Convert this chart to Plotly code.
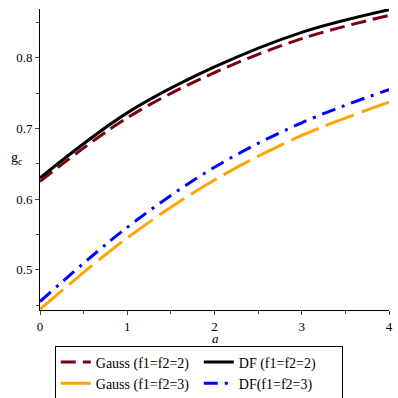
import plotly.graph_objects as go

# valores
a = [0, 1, 2, 3, 4]
gauss_2 = [0.625, 0.715, 0.779, 0.827, 0.860]
df_2 = [0.630, 0.722, 0.787, 0.836, 0.868]
gauss_3 = [0.444, 0.545, 0.627, 0.690, 0.737]
df_3 = [0.455, 0.560, 0.645, 0.708, 0.755]

fig = go.Figure()
fig.add_trace(go.Scatter(x=a, y=gauss_2, mode='lines', name='Gauss (f1=f2=2)',
                         line=dict(color='#7a0010', width=3, dash='15px,7px', shape='spline')))
fig.add_trace(go.Scatter(x=a, y=df_2, mode='lines', name='DF (f1=f2=2)',
                         line=dict(color='black', width=3, shape='spline')))
fig.add_trace(go.Scatter(x=a, y=gauss_3, mode='lines', name='Gauss (f1=f2=3)',
                         line=dict(color='#ffa500', width=3, dash='30px,8px', shape='spline')))
fig.add_trace(go.Scatter(x=a, y=df_3, mode='lines', name='DF(f1=f2=3)',
                         line=dict(color='#0000ff', width=3, dash='14px,7px,3px,7px', shape='spline')))

serif = 'Liberation Serif, Times New Roman, serif'
fuente = dict(family=serif, size=13, color='black')

fig.update_layout(
    width=398, height=398,
    margin=dict(l=40, r=9, t=9, b=88, autoexpand=False),
    plot_bgcolor='white', paper_bgcolor='white',
    font=fuente,
    showlegend=True,
    legend=dict(orientation='h', x=0.455, xanchor='center', y=-0.118, yanchor='top',
                bordercolor='black', borderwidth=1, entrywidth=98, bgcolor='rgba(0,0,0,0)',
                font=dict(family=serif, size=14, color='black'), tracegroupgap=0,
                itemwidth=30),
    xaxis=dict(range=[0, 4], showgrid=False, zeroline=False, showline=True, linecolor='black',
               linewidth=1, ticks='outside', ticklen=4, tickvals=[0, 1, 2, 3, 4],
               tickfont=fuente, ticklabeloverflow='allow',
               minor=dict(ticks='outside', ticklen=3, dtick=0.5, tick0=0)),
    yaxis=dict(range=[0.443, 0.869], showgrid=False, zeroline=False, showline=True, linecolor='black',
               linewidth=1, ticks='outside', ticklen=4, tickvals=[0.5, 0.6, 0.7, 0.8],
               tickfont=fuente,
               minor=dict(ticks='outside', ticklen=3, dtick=0.05, tick0=0.45)),
)

fig.add_annotation(text='g<sub>c</sub>', xref='paper', yref='paper', x=-0.066, y=0.503,
                   xanchor='center', yanchor='middle',
                   showarrow=False, font=dict(family=serif, size=14, color='black'))
fig.add_annotation(text='<i>a</i>', xref='paper', yref='paper', x=0.503, y=-0.094,
                   xanchor='center', yanchor='middle',
                   showarrow=False, font=dict(family=serif, size=13, color='black'))

# quitar el margen del body para que la figura ocupe toda la ventana
fig.write_html("out.html", config={'displayModeBar': False},
               post_script="document.body.style.margin='0';document.body.style.overflow='hidden';")
